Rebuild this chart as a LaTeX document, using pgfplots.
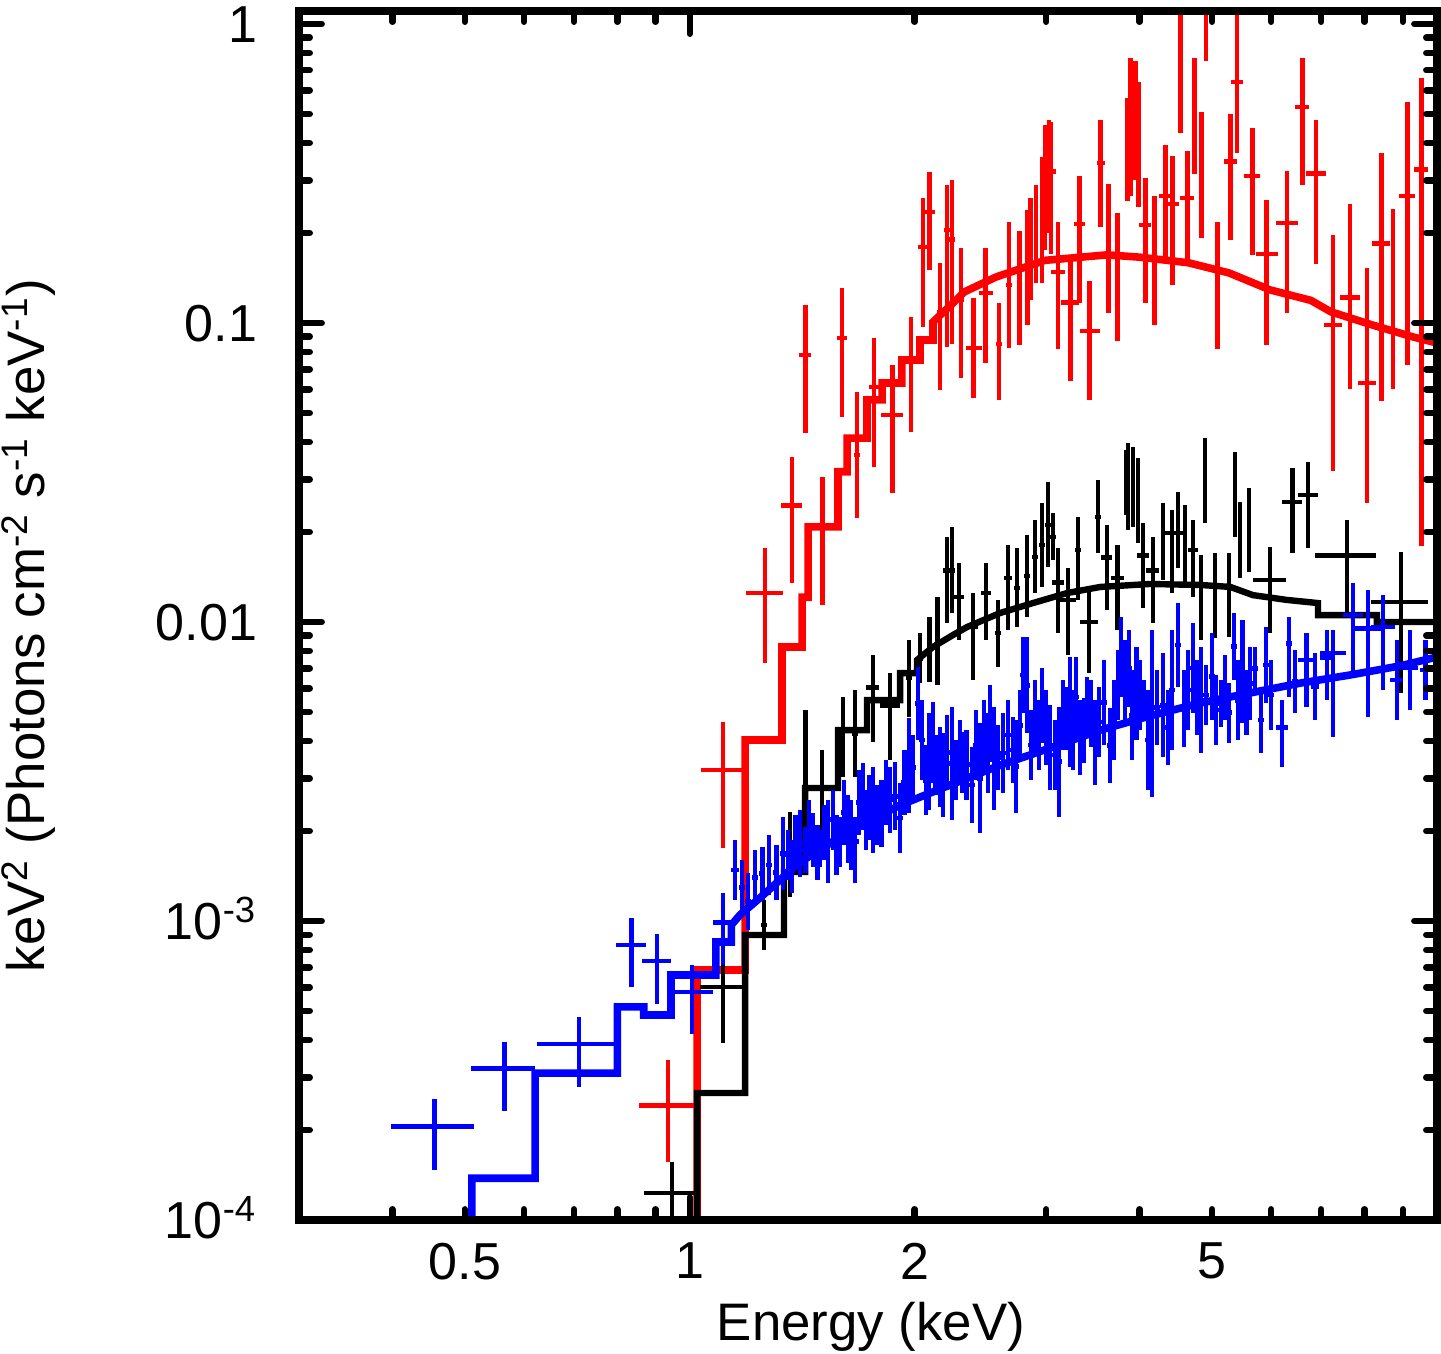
\documentclass[border=0pt]{standalone}
\usepackage{fontspec}
\setmainfont{Liberation Sans}
\usepackage{pgfplots}
\usepackage{pgfplotstable}
\pgfplotsset{compat=1.18}
\usetikzlibrary{calc}

% columns: E (keV), w (relative half bin width), F, lower and upper end of error bar
\pgfplotstableread{
E w F Flo Fhi
0.935 0.0845 2.41e-4 1.56e-4 3.43e-4
1.108 0.065 3.20e-3 1.754e-3 4.63e-3
1.261 0.058 0.0125 7.29e-3 0.01769
1.370 0.032 0.0246 0.0135 0.0356
1.427 0.018 0.0782 0.0429 0.1149
1.507 0.008 0.0187 0.0114 0.0306
1.599 0.015 0.0891 0.0485 0.1309
1.674 0.008 0.0362 0.0223 0.0588
1.765 0.015 0.0611 0.033 0.0891
1.866 0.035 0.0492 0.027 0.0724
1.978 0.008 0.0752 0.0432 0.1047
2.052 0.015 0.1795 0.097 0.262
2.096 0.015 0.235 0.1504 0.32
2.162 0.01 0.1089 0.0597 0.1587
2.209 0.008 0.2046 0.0831 0.2894
2.244 0.008 0.19 0.085 0.30
2.307 0.008 0.1194 0.0655 0.178
2.40 0.025 0.0825 0.0561 0.1213
2.49 0.022 0.126 0.0737 0.178
2.594 0.008 0.085 0.0553 0.117
2.675 0.008 0.134 0.0825 0.2176
2.76 0.008 0.14 0.0844 0.203
2.83 0.008 0.165 0.0985 0.239
2.86 0.006 0.177 0.1194 0.262
2.906 0.006 0.2 0.136 0.289
2.961 0.006 0.22 0.136 0.359
2.988 0.006 0.322 0.175 0.4594
3.026 0.006 0.31 0.2 0.4775
3.044 0.015 0.322 0.1705 0.47
3.11 0.022 0.148 0.0817 0.2176
3.23 0.028 0.117 0.064 0.162
3.32 0.017 0.2143 0.117 0.31
3.43 0.031 0.094 0.0553 0.138
3.55 0.012 0.343 0.21 0.4775
3.63 0.006 0.2 0.108 0.292
3.74 0.006 0.16 0.087 0.233
3.85 0.005 0.403 0.2555 0.5656
3.89 0.005 0.449 0.266 0.769
3.95 0.005 0.557 0.30 0.75
3.99 0.005 0.44 0.245 0.64
4.07 0.019 0.2127 0.117 0.305
4.19 0.006 0.1795 0.0985 0.265
4.33 0.019 0.266 0.166 0.394
4.43 0.02 0.25 0.134 0.363
4.537 0.006 0.752 0.432 1.1
4.63 0.022 0.262 0.162 0.376
4.74 0.006 0.54 0.316 0.769
4.84 0.006 0.346 0.192 0.506
4.907 0.006 1.2 0.75 1.6
5.08 0.006 0.147 0.0817 0.2176
5.29 0.02 0.346 0.19 0.5
5.40 0.019 0.64 0.37 1.12
5.66 0.025 0.31 0.1688 0.45
5.92 0.034 0.17 0.0844 0.257
6.30 0.034 0.216 0.108 0.322
6.60 0.022 0.528 0.289 0.769
6.89 0.031 0.316 0.157 0.4775
7.26 0.028 0.0985 0.032 0.197
7.65 0.031 0.122 0.06 0.25
8.06 0.028 0.063 0.025 0.153
8.42 0.028 0.185 0.055 0.37
8.73 0.006 0.12 0.06 0.24
9.12 0.025 0.266 0.0722 0.548
9.53 0.022 0.326 0.018 0.66
}\reddata

\pgfplotstableread{
E F
1.023 5e-5
1.023 6.86e-4
1.186 6.86e-4
1.186 4.03e-3
1.329 4.03e-3
1.329 8.25e-3
1.414 8.25e-3
1.414 0.0121
1.440 0.0121
1.440 0.0208
1.579 0.0208
1.579 0.0318
1.624 0.0318
1.624 0.0412
1.727 0.0412
1.727 0.0553
1.809 0.0553
1.809 0.063
1.923 0.063
1.923 0.0752
2.033 0.0752
2.033 0.0877
2.116 0.0877
2.116 0.1008
2.251 0.1166
2.33 0.127
2.57 0.1425
2.99 0.162
3.62 0.169
4.0 0.166
4.65 0.159
5.27 0.147
5.98 0.129
6.78 0.119
7.21 0.109
8.19 0.0985
9.29 0.0898
10.0 0.0857
}\redmodel

\pgfplotstableread{
E w F Flo Fhi
0.947 0.083 1.231e-4 8e-5 1.56e-4
1.108 0.069 6.02e-4 3.91e-4 7.13e-4
1.257 0.01 9.7e-4 8.0e-4 1.176e-3
1.362 0.01 1.663e-3 1.204e-3 2.31e-3
1.427 0.008 3.94e-3 2.015e-3 5.08e-3
1.503 0.053 2.785e-3 1.91e-3 3.73e-3
1.604 0.02 4.35e-3 3.03e-3 5.61e-3
1.664 0.008 4.25e-3 3.03e-3 5.92e-3
1.759 0.02 6.05e-3 3.97e-3 7.76e-3
1.854 0.03 5.27e-3 3.455e-3 6.75e-3
1.965 0.008 6.5e-3 4.81e-3 8.71e-3
2.033 0.008 7.57e-3 6.25e-3 9.19e-3
2.096 0.008 8.06e-3 6.30e-3 0.0104
2.148 0.008 8.58e-3 6.15e-3 0.0121
2.209 0.012 0.0149 9.93e-3 0.01925
2.244 0.008 0.0149 0.0107 0.0208
2.292 0.015 0.01212 8.71e-3 0.01575
2.394 0.015 9.62e-3 6.40e-3 0.0125
2.492 0.015 0.0125 8.71e-3 0.01575
2.586 0.008 9.19e-3 7.07e-3 0.01185
2.667 0.012 0.01404 9.40e-3 0.0181
2.742 0.008 0.0130 9.62e-3 0.0177
2.827 0.008 0.01425 0.0104 0.0195
2.897 0.01 0.0165 0.0125 0.02194
2.961 0.008 0.0181 0.0131 0.025
3.016 0.008 0.0211 0.01528 0.0294
3.063 0.008 0.01925 0.0161 0.02315
3.111 0.017 0.01357 9.19e-3 0.0177
3.208 0.025 0.01185 7.76e-3 0.01515
3.309 0.008 0.0174 0.01185 0.02245
3.422 0.028 0.0100 6.75e-3 0.0128
3.519 0.008 0.02245 0.017 0.02985
3.617 0.017 0.0164 0.01097 0.0211
3.732 0.02 0.01404 9.40e-3 0.0181
3.836 0.006 0.031 0.0228 0.0376
3.860 0.006 0.02764 0.0203 0.0397
3.920 0.006 0.0283 0.0208 0.0386
3.981 0.006 0.0255 0.01837 0.0354
4.042 0.018 0.0167 0.01114 0.02144
4.167 0.02 0.0149 9.93e-3 0.01925
4.299 0.006 0.0188 0.01382 0.025
4.419 0.034 0.01985 0.0125 0.0237
4.502 0.006 0.0203 0.01515 0.0272
4.60 0.006 0.0183 0.01357 0.0246
4.715 0.015 0.0174 0.01212 0.02194
4.832 0.006 0.01212 8.71e-3 0.0167
4.892 0.006 0.0322 0.02144 0.0412
5.045 0.006 0.0123 8.85e-3 0.017
5.268 0.006 0.0123 8.9e-3 0.017
5.367 0.006 0.0287 0.01925 0.037
5.451 0.006 0.0200 0.01404 0.0252
5.604 0.006 0.0203 0.01467 0.0281
5.979 0.05 0.01382 9.19e-3 0.0178
6.40 0.03 0.0252 0.017 0.03275
6.72 0.031 0.0266 0.0177 0.0343
7.58 0.094 0.0167 0.0107 0.02194
8.95 0.087 0.01167 5.78e-3 0.01714
}\blackdata

\pgfplotstableread{
E F
1.023 5e-5
1.023 2.66e-4
1.186 2.66e-4
1.186 8.98e-4
1.337 8.98e-4
1.337 1.459e-3
1.427 1.459e-3
1.427 2.785e-3
1.579 2.785e-3
1.579 4.35e-3
1.727 4.35e-3
1.727 5.48e-3
1.912 5.48e-3
1.912 6.75e-3
2.014 6.75e-3
2.014 7.46e-3
2.116 8.25e-3
2.251 9.05e-3
2.350 9.62e-3
2.603 0.01072
2.879 0.01157
3.20 0.0125
3.544 0.0131
4.128 0.0134
4.826 0.0133
5.29 0.0131
5.67 0.0123
6.30 0.01185
6.93 0.01157
6.93 0.01055
8.31 0.01055
8.31 0.0100
10.0 0.0100
}\blackmodel

\pgfplotstableread{
E w F Flo Fhi
0.456 0.127 2.05e-4 1.47e-4 2.54e-4
0.565 0.098 3.22e-4 2.31e-4 3.94e-4
0.711 0.122 3.88e-4 2.79e-4 4.78e-4
0.835 0.046 8.31e-4 6.02e-4 1.023e-3
0.904 0.045 7.35e-4 5.28e-4 9.05e-4
1.007 0.066 5.79e-4 4.19e-4 7.13e-4
1.108 0.029 9.9e-4 7.13e-4 1.24e-3
1.150 0.012 1.481e-3 1.176e-3 1.866e-3
1.175 0.01 1.296e-3 1.048e-3 1.60e-3
1.197 0.01 1.163e-3 9.33e-4 1.447e-3
1.223 0.01 1.40e-3 1.132e-3 1.728e-3
1.250 0.01 1.44e-3 1.176e-3 1.768e-3
1.277 0.01 1.54e-3 1.222e-3 1.939e-3
1.305 0.01 1.452e-3 1.176e-3 1.796e-3
1.333 0.01 1.68e-3 1.27e-3 2.23e-3
1.354 0.01 1.663e-3 1.371e-3 2.015e-3
1.370 0.01 1.52e-3 1.24e-3 1.866e-3
1.387 0.01 1.83e-3 1.481e-3 2.26e-3
1.405 0.01 1.82e-3 1.40e-3 2.35e-3
1.427 0.01 1.728e-3 1.447e-3 2.06e-3
1.444 0.01 2.015e-3 1.60e-3 2.54e-3
1.462 0.01 1.866e-3 1.52e-3 2.30e-3
1.481 0.01 1.695e-3 1.371e-3 2.10e-3
1.494 0.01 1.75e-3 1.52e-3 2.015e-3
1.513 0.01 1.977e-3 1.60e-3 2.44e-3
1.531 0.01 1.845e-3 1.34e-3 2.54e-3
1.555 0.01 2.18e-3 1.728e-3 2.74e-3
1.570 0.01 1.796e-3 1.425e-3 2.26e-3
1.589 0.012 2.1e-3 1.52e-3 2.23e-3
1.609 0.01 2.31e-3 1.796e-3 2.96e-3
1.629 0.01 2.03e-3 1.563e-3 2.64e-3
1.644 0.01 1.94e-3 1.481e-3 2.54e-3
1.664 0.012 1.85e-3 1.34e-3 2.23e-3
1.685 0.01 2.49e-3 1.939e-3 3.20e-3
1.706 0.01 2.60e-3 2.015e-3 3.37e-3
1.722 0.01 2.18e-3 1.728e-3 2.74e-3
1.738 0.01 2.40e-3 1.866e-3 3.08e-3
1.759 0.01 2.35e-3 1.69e-3 3.27e-3
1.781 0.01 2.26e-3 1.796e-3 2.85e-3
1.808 0.01 2.29e-3 1.768e-3 2.96e-3
1.831 0.01 2.69e-3 2.10e-3 3.455e-3
1.854 0.01 2.54e-3 1.97e-3 3.27e-3
1.883 0.01 2.61e-3 2.015e-3 3.40e-3
1.912 0.01 2.21e-3 1.69e-3 2.89e-3
1.936 0.01 2.91e-3 2.26e-3 3.73e-3
1.965 0.01 3.31e-3 2.30e-3 4.77e-3
1.989 0.01 3.26e-3 2.54e-3 4.19e-3
2.020 0.01 5.34e-3 4.03e-3 7.07e-3
2.046 0.01 4.03e-3 2.96e-3 5.48e-3
2.071 0.01 2.96e-3 2.26e-3 3.88e-3
2.090 0.01 3.42e-3 2.35e-3 4.97e-3
2.116 0.01 3.95e-3 2.89e-3 5.40e-3
2.135 0.01 3.33e-3 2.64e-3 4.19e-3
2.162 0.01 3.27e-3 2.40e-3 4.45e-3
2.182 0.01 3.08e-3 2.23e-3 4.25e-3
2.209 0.01 3.66e-3 2.74e-3 4.88e-3
2.244 0.01 3.36e-3 2.18e-3 5.19e-3
2.272 0.01 3.20e-3 2.54e-3 4.03e-3
2.299 0.01 3.66e-3 2.85e-3 4.70e-3
2.320 0.01 3.39e-3 2.68e-3 4.28e-3
2.349 0.01 3.33e-3 2.54e-3 4.35e-3
2.387 0.01 2.85e-3 2.13e-3 3.82e-3
2.416 0.01 3.88e-3 2.96e-3 5.08e-3
2.446 0.01 3.0e-3 1.97e-3 4.59e-3
2.476 0.01 4.11e-3 3.08e-3 5.48e-3
2.507 0.01 3.65e-3 2.68e-3 4.97e-3
2.522 0.01 4.58e-3 3.40e-3 6.15e-3
2.553 0.01 3.50e-3 2.35e-3 5.19e-3
2.585 0.01 3.52e-3 2.74e-3 4.52e-3
2.626 0.01 3.65e-3 2.68e-3 4.97e-3
2.667 0.01 4.19e-3 3.20e-3 5.48e-3
2.708 0.01 3.73e-3 2.89e-3 4.81e-3
2.733 0.01 3.28e-3 2.30e-3 4.70e-3
2.767 0.01 4.52e-3 3.455e-3 5.92e-3
2.793 0.01 6.65e-3 4.97e-3 8.91e-3
2.827 0.01 6.15e-3 4.25e-3 8.91e-3
2.862 0.01 3.88e-3 2.96e-3 5.08e-3
2.897 0.01 4.79e-3 3.59e-3 6.40e-3
2.933 0.01 4.19e-3 3.20e-3 5.48e-3
2.961 0.01 5.25e-3 3.94e-3 7.02e-3
2.998 0.01 4.44e-3 3.33e-3 5.92e-3
3.035 0.01 3.80e-3 2.74e-3 5.27e-3
3.082 0.01 3.59e-3 2.74e-3 4.70e-3
3.120 0.01 3.41e-3 2.23e-3 5.19e-3
3.159 0.01 4.88e-3 3.73e-3 6.40e-3
3.198 0.01 4.75e-3 3.73e-3 6.05e-3
3.228 0.01 5.0e-3 3.27e-3 7.63e-3
3.258 0.01 4.35e-3 3.20e-3 5.92e-3
3.288 0.01 5.61e-3 4.12e-3 7.63e-3
3.329 0.01 4.11e-3 3.08e-3 5.48e-3
3.370 0.01 4.33e-3 3.37e-3 5.57e-3
3.402 0.01 5.27e-3 4.25e-3 6.55e-3
3.444 0.01 4.94e-3 3.82e-3 6.40e-3
3.486 0.01 3.95e-3 2.85e-3 5.48e-3
3.530 0.01 4.63e-3 3.53e-3 6.05e-3
3.584 0.01 5.38e-3 3.88e-3 7.46e-3
3.652 0.01 3.86e-3 2.89e-3 5.16e-3
3.697 0.01 4.70e-3 3.455e-3 6.40e-3
3.743 0.01 6.15e-3 4.70e-3 8.06e-3
3.778 0.01 7.63e-3 5.61e-3 0.0104
3.824 0.01 6.40e-3 4.70e-3 8.71e-3
3.872 0.01 7.0e-3 5.19e-3 9.40e-3
3.908 0.01 4.88e-3 3.455e-3 6.91e-3
3.957 0.01 5.77e-3 4.03e-3 8.25e-3
4.005 0.01 5.70e-3 4.35e-3 7.46e-3
4.055 0.01 5.48e-3 4.70e-3 6.40e-3
4.105 0.01 4.03e-3 2.74e-3 5.92e-3
4.155 0.01 4.94e-3 2.60e-3 9.40e-3
4.219 0.01 5.18e-3 3.88e-3 6.91e-3
4.299 0.01 5.27e-3 3.53e-3 7.88e-3
4.366 0.01 4.44e-3 3.33e-3 5.92e-3
4.419 0.01 5.92e-3 3.73e-3 9.40e-3
4.502 0.01 8.38e-3 6.05e-3 0.01158
4.586 0.01 5.14e-3 3.82e-3 6.91e-3
4.643 0.01 5.92e-3 4.35e-3 8.06e-3
4.715 0.01 7.02e-3 4.97e-3 9.93e-3
4.774 0.01 5.59e-3 4.19e-3 7.46e-3
4.832 0.01 5.48e-3 3.64e-3 8.25e-3
4.907 0.01 5.70e-3 4.52e-3 7.18e-3
4.999 0.01 6.57e-3 4.70e-3 9.19e-3
5.061 0.01 5.08e-3 3.88e-3 6.65e-3
5.140 0.01 5.34e-3 4.45e-3 6.40e-3
5.203 0.01 6.04e-3 4.70e-3 7.76e-3
5.268 0.01 4.97e-3 3.94e-3 6.25e-3
5.351 0.01 8.29e-3 6.40e-3 0.0107
5.417 0.01 5.48e-3 4.03e-3 7.46e-3
5.485 0.01 6.83e-3 4.59e-3 0.01016
5.553 0.01 5.38e-3 4.19e-3 6.91e-3
5.621 0.01 6.23e-3 4.70e-3 8.25e-3
5.708 0.01 7.0e-3 5.92e-3 8.25e-3
5.815 0.01 4.70e-3 3.64e-3 6.05e-3
5.905 0.01 7.18e-3 5.35e-3 9.62e-3
5.997 0.01 5.70e-3 4.35e-3 7.46e-3
6.204 0.02 4.45e-3 3.27e-3 5.48e-3
6.339 0.01 8.5e-3 5.61e-3 0.0104
6.458 0.01 6.33e-3 4.97e-3 8.06e-3
6.682 0.025 7.46e-3 5.19e-3 9.19e-3
6.868 0.012 6.09e-3 4.70e-3 7.88e-3
7.127 0.022 7.63e-3 5.48e-3 9.40e-3
7.259 0.04 7.88e-3 4.12e-3 9.40e-3
7.721 0.031 0.01055 6.75e-3 0.0135
8.084 0.05 9.53e-3 4.81e-3 0.0128
8.468 0.037 9.62e-3 5.92e-3 0.0123
8.84 0.02 6.40e-3 4.70e-3 8.71e-3
9.203 0.025 7.02e-3 5.08e-3 9.40e-3
9.64 0.015 6.91e-3 5.48e-3 8.71e-3
}\bluedata

\pgfplotstableread{
E F
0.511 5e-5
0.511 1.38e-4
0.621 1.38e-4
0.621 3.10e-4
0.800 3.10e-4
0.800 5.16e-4
0.868 5.16e-4
0.868 4.85e-4
0.944 4.85e-4
0.944 6.60e-4
1.084 6.60e-4
1.084 8.51e-4
1.137 8.51e-4
1.137 9.7e-4
1.167 1.047e-3
1.241 1.194e-3
1.320 1.371e-3
1.405 1.575e-3
1.494 1.728e-3
1.638 2.015e-3
1.912 2.44e-3
2.230 2.85e-3
2.603 3.32e-3
3.036 3.79e-3
3.544 4.35e-3
4.128 4.85e-3
4.826 5.36e-3
5.62 5.79e-3
6.572 6.25e-3
7.65 6.65e-3
8.92 7.13e-3
10.0 7.64e-3
}\bluemodel

\begin{document}
\begin{tikzpicture}
\begin{axis}[
  name=ax,
  scale only axis,
  width=284.5pt, height=302.25pt,
  xmode=log, ymode=log,
  xmin=0.3, xmax=10, ymin=1e-4, ymax=1.105,
  axis on top,
  axis line style={line width=2pt},
  tick align=inside,
  major tick length=5.7pt,
  minor tick length=2.7pt,
  tick style={line width=1.6pt, line cap=round, black},
  xtick={1}, xticklabels={1},
  extra x ticks={0.5,2,5}, extra x tick labels={0.5,2,5},
  extra x tick style={major tick length=2.7pt},
  minor xtick={0.4,0.6,0.7,0.8,0.9,3,4,6,7,8,9},
  ytick={1e-4,1e-3,1e-2,1e-1,1},
  yticklabels={10\textsuperscript{-4},10\textsuperscript{-3},0.01,0.1,1},
  minor ytick={2e-4,3e-4,4e-4,5e-4,6e-4,7e-4,8e-4,9e-4,2e-3,3e-3,4e-3,5e-3,6e-3,7e-3,8e-3,9e-3,0.02,0.03,0.04,0.05,0.06,0.07,0.08,0.09,0.2,0.3,0.4,0.5,0.6,0.7,0.8,0.9},
  tick label style={font=\fontsize{13}{15}\selectfont},
  xticklabel style={anchor=north, inner sep=0pt, yshift=-5.5pt},
  yticklabel style={anchor=base east, inner sep=0pt, xshift=-10.25pt, yshift=-4.65pt},
  xlabel={Energy (keV)},
  xlabel style={at={(axis description cs:0.5026,-0.0993)}, anchor=base, inner sep=0pt, font=\fontsize{13.2}{15}\selectfont},
  ylabel={keV\textsuperscript{2} (Photons cm\textsuperscript{-2} s\textsuperscript{-1} keV\textsuperscript{-1})},
  ylabel style={at={(axis description cs:-0.2236,0.4917)}, anchor=base, inner sep=0pt, font=\fontsize{13.2}{15}\selectfont},
]
% red
\addplot[draw=none, mark=none,
  error bars/.cd, x dir=both, x explicit, y dir=both, y explicit, error mark=none,
  error bar style={draw=red, line width=1.2pt}]
  table[x=E, y=F, x error expr=\thisrow{E}*\thisrow{w}, y error plus expr=\thisrow{Fhi}-\thisrow{F}, y error minus expr=\thisrow{F}-\thisrow{Flo}] {\reddata};
\addplot[red, line width=1.9pt, mark=none] table[x=E, y=F] {\redmodel};
% black
\addplot[draw=none, mark=none,
  error bars/.cd, x dir=both, x explicit, y dir=both, y explicit, error mark=none,
  error bar style={draw=black, line width=1.2pt}]
  table[x=E, y=F, x error expr=\thisrow{E}*\thisrow{w}, y error plus expr=\thisrow{Fhi}-\thisrow{F}, y error minus expr=\thisrow{F}-\thisrow{Flo}] {\blackdata};
\addplot[black, line width=1.6pt, mark=none] table[x=E, y=F] {\blackmodel};
% blue
\addplot[draw=none, mark=none,
  error bars/.cd, x dir=both, x explicit, y dir=both, y explicit, error mark=none,
  error bar style={draw=blue, line width=1.2pt}]
  table[x=E, y=F, x error expr=\thisrow{E}*\thisrow{w}, y error plus expr=\thisrow{Fhi}-\thisrow{F}, y error minus expr=\thisrow{F}-\thisrow{Flo}] {\bluedata};
\addplot[blue, line width=1.9pt, mark=none] table[x=E, y=F] {\bluemodel};
\end{axis}
\pgfresetboundingbox
\path[use as bounding box] ($(ax.south west)+(-74.75pt,-33.25pt)$) rectangle ($(ax.south west)+(285.5pt,305pt)$);
\end{tikzpicture}
\end{document}
